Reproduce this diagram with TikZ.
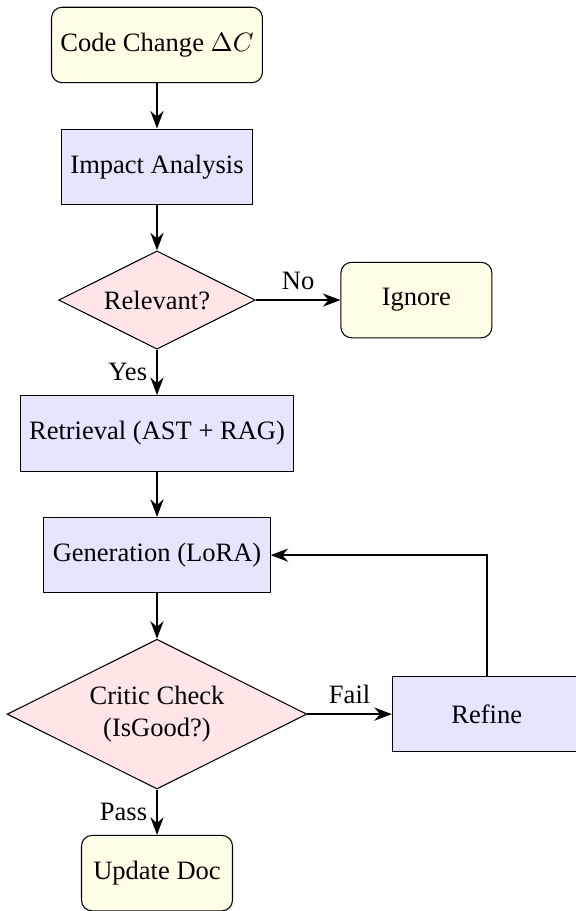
\documentclass[tikz,border=0pt]{standalone}
\usepackage{amsmath}
\usepackage{fontspec}
\setmainfont{Liberation Serif}
\usetikzlibrary{arrows.meta, positioning, shapes.geometric}

\begin{document}
\begin{tikzpicture}[node distance=0.6cm, auto,
    startstop/.style={rectangle, rounded corners, minimum width=2cm, minimum height=1cm, draw, fill=yellow!10},
    process/.style={rectangle, minimum width=2.5cm, minimum height=1cm, draw, fill=blue!10},
    decision/.style={diamond, aspect=2, draw, fill=red!10, align=center},
    arrow/.style={thick, -Stealth}]
    \useasboundingbox (0,0) rectangle (7.63,-12.07);

    % Nodes
    \node (change) [startstop] at (2.08,-0.596) {Code Change $\Delta C$};
    \node (impact) [process, below=of change] {Impact Analysis};
    \node (relevant) [decision, below=of impact] {Relevant?};
    \node (ignore) [startstop, right=1.12cm of relevant] {Ignore};
    \node (retrieval) [process, below=of relevant] {Retrieval (AST + RAG)};
    \node (generation) [process, below=of retrieval] {Generation (LoRA)};
    \node (critic) [decision, below=of generation] {Critic Check\\(IsGood?)};
    \node (refine) [process, right=1.12cm of critic] {Refine};
    \node (update) [startstop, below=of critic] {Update Doc};

    % Arrows
    \draw[arrow] (change) -- (impact);
    \draw[arrow] (impact) -- (relevant);
    \draw[arrow] (relevant) -- node {No} (ignore);
    \draw[arrow] (relevant) -- node[swap] {Yes} (retrieval);
    \draw[arrow] (retrieval) -- (generation);
    \draw[arrow] (generation) -- (critic);
    \draw[arrow] (critic) -- node {Fail} (refine);
    \draw[arrow] (refine) |- (generation);
    \draw[arrow] (critic) -- node[swap] {Pass} (update);
\end{tikzpicture}
\end{document}
